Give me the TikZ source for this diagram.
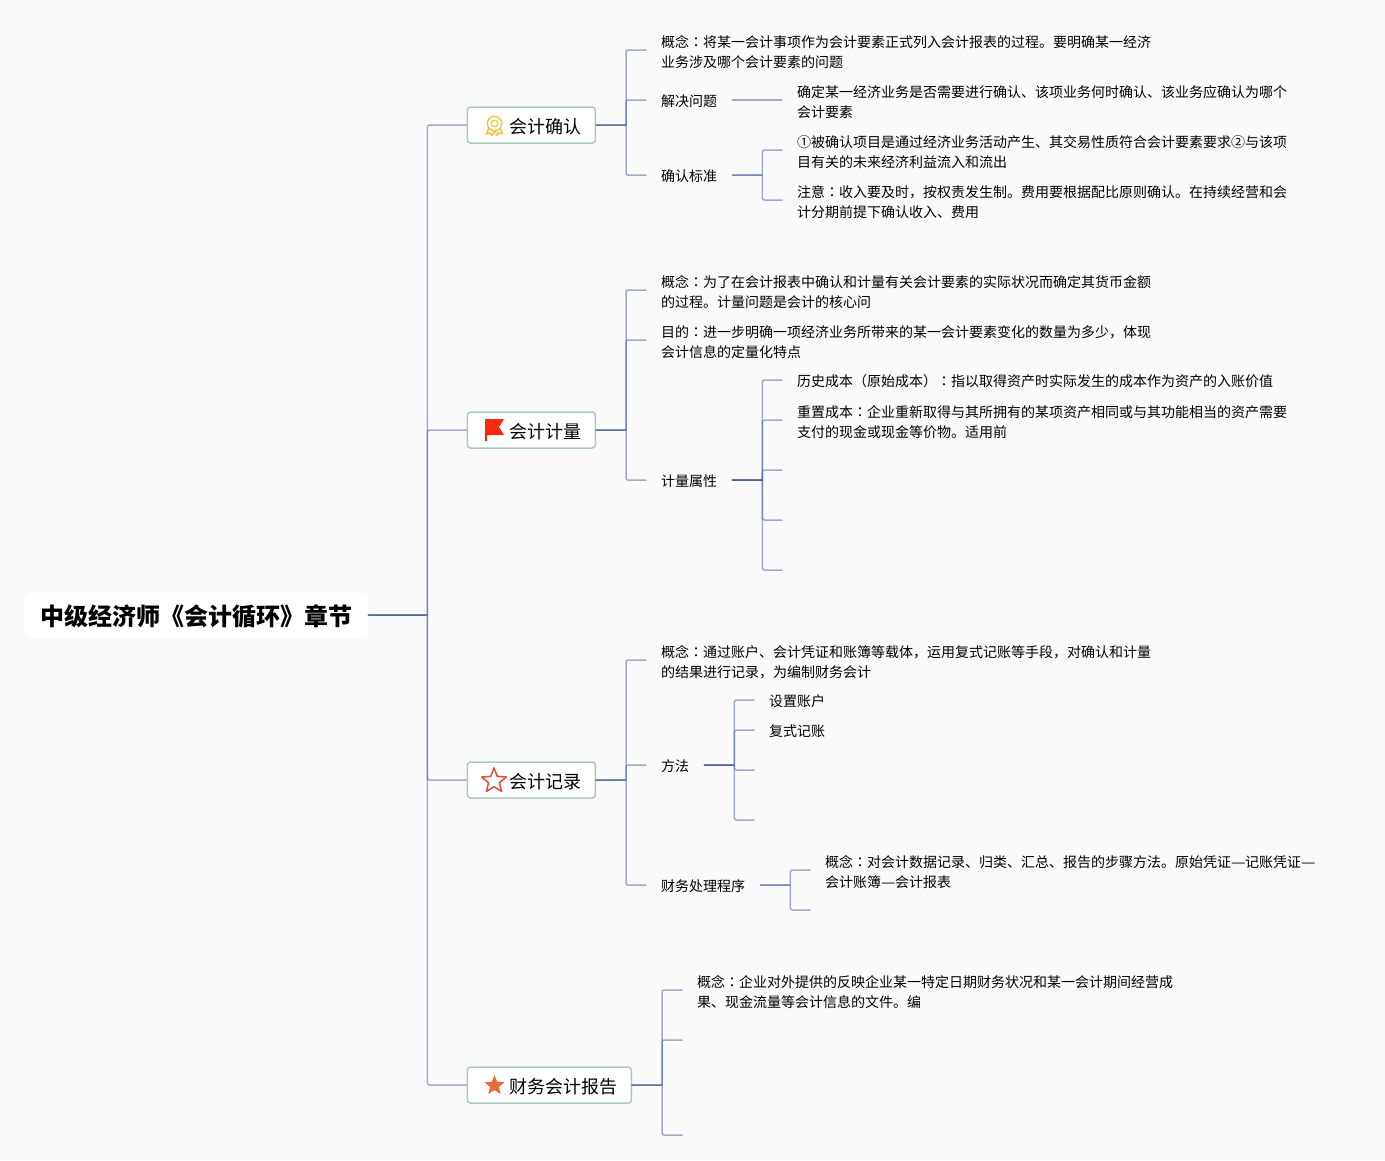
\documentclass[tikz,border=0pt]{standalone}
\usepackage{fontspec}
\setmainfont{Noto Sans CJK SC}
\newfontfamily\jpfont{Noto Sans CJK JP}
\usetikzlibrary{shapes.geometric}
\definecolor{nenbg}{HTML}{FAFAFB}
\definecolor{duong}{HTML}{4A5F9F}
\definecolor{vien}{HTML}{A9CBBF}
\definecolor{vang}{HTML}{F6C64E}
\definecolor{coRed}{HTML}{F52A0F}
\definecolor{saoDo}{HTML}{E2533F}
\definecolor{saoCam}{HTML}{E8693A}
\newcommand{\mh}{{\jpfont ：}}
\newcommand{\gach}{\makebox[14pt]{\scalebox{1.15}[1]{—}}}
\newcommand{\hd}{\rule{0pt}{16.8pt}}
\tikzset{
	lk/.style={draw=duong, line width=1.5pt, opacity=.5},
	la/.style={anchor=west, align=left, inner xsep=15pt, inner ysep=0pt, font=\fontsize{14}{20}\selectfont, execute at begin node={\rule{0pt}{14.3pt}}},
	nhanh/.style={anchor=west, draw=vien, fill=white, line width=1.5pt, rounded corners=3pt, align=right, inner xsep=14pt, minimum height=36pt, font=\fontsize{18}{22}\selectfont, execute at begin node={\rule{0pt}{18.3pt}}},
	goc/.style={anchor=west, fill=white, rounded corners=6pt, inner xsep=16pt, minimum height=45pt, font=\fontsize{24}{28}\selectfont\bfseries, execute at begin node={\rule{0pt}{24.1pt}}}
}
\begin{document}
\begin{tikzpicture}[x=1pt, y=-1pt, line join=round, line cap=round]
	\useasboundingbox (0,0) rectangle (1385,1160);
	\fill[nenbg] (0,0) rectangle (1385,1160);
	\node[goc] (root) at (24,615) {中级经济师《会计循环》章节};
	\node[nhanh, text width=99.8pt] (xn) at (466.7,125) {会计确认};
	\node[nhanh, text width=99.8pt] (cl) at (466.7,430) {会计计量};
	\node[nhanh, text width=99.8pt] (gc) at (466.7,780) {会计记录};
	\node[nhanh, text width=135.8pt] (bc) at (466.7,1085) {财务会计报告};
	% nhan chu
	\foreach \nm/\x/\y/\txt in {
		a1/646/50/{\hd 概念\mh 将某一会计事项作为会计要素正式列入会计报表的过程。要明确某一经济\\业务涉及哪个会计要素的问题},
		a2/646/100/{解决问题},
		a3/646/175/{确认标准},
		a4/782/100/{\hd 确定某一经济业务是否需要进行确认、该项业务何时确认、该业务应确认为哪个\\会计要素},
		a5/782/150/{\hd ①被确认项目是通过经济业务活动产生、其交易性质符合会计要素要求②与该项\\目有关的未来经济利益流入和流出},
		a6/782/200/{\hd 注意\mh 收入要及时，按权责发生制。费用要根据配比原则确认。在持续经营和会\\计分期前提下确认收入、费用},
		b1/646/290/{\hd 概念\mh 为了在会计报表中确认和计量有关会计要素的实际状况而确定其货币金额\\的过程。计量问题是会计的核心问},
		b2/646/340/{\hd 目的\mh 进一步明确一项经济业务所带来的某一会计要素变化的数量为多少，体现\\会计信息的定量化特点},
		b3/646/480/{计量属性},
		b4/782/380/{历史成本（原始成本）\mh 指以取得资产时实际发生的成本作为资产的入账价值},
		b5/782/420/{\hd 重置成本\mh 企业重新取得与其所拥有的某项资产相同或与其功能相当的资产需要\\支付的现金或现金等价物。适用前},
		c1/646/660/{\hd 概念\mh 通过账户、会计凭证和账簿等载体，运用复式记账等手段，对确认和计量\\的结果进行记录，为编制财务会计},
		c2/646/765/{方法},
		c3/646/885/{财务处理程序},
		c4/754/700/{设置账户},
		c5/754/730/{复式记账},
		c6/810/870/{\hd 概念\mh 对会计数据记录、归类、汇总、报告的步骤方法。原始凭证\gach 记账凭证\gach\\会计账簿\gach 会计报表},
		d1/682/990/{\hd 概念\mh 企业对外提供的反映企业某一特定日期财务状况和某一会计期间经营成\\果、现金流量等会计信息的文件。编}}
	\node[la] (\nm) at (\x,\y) {\txt};
	% nhanh trong
	\coordinate (e1) at (782,470);
	\coordinate (e2) at (782,520);
	\coordinate (e3) at (782,570);
	\coordinate (e4) at (754,770);
	\coordinate (e5) at (754,820);
	\coordinate (e6) at (810,910);
	\coordinate (e7) at (682,1040);
	\coordinate (e8) at (682,1135);
	% duong noi
	\foreach \p/\q/\g in {root/xn.west/59,root/cl.west/59,root/gc.west/59,root/bc.west/59,
		xn/a1.west/30,xn/a2.west/30,xn/a3.west/30,a3/a5.west/30,a3/a6.west/30,
		cl/b1.west/30,cl/b2.west/30,cl/b3.west/30,b3/b4.west/30,b3/b5.west/30,b3/e1/30,b3/e2/30,b3/e3/30,
		gc/c1.west/30,gc/c2.west/30,gc/c3.west/30,c2/c4.west/30,c2/c5.west/30,c2/e4/30,c2/e5/30,c3/c6.west/30,c3/e6/30,
		bc/d1.west/30,bc/e7/30,bc/e8/30}
	\draw[lk] (\p.east) -- ++(\g,0) [rounded corners=2pt] |- (\q);
	\draw[lk] (a2.east) -- (a4.west);
	% bieu tuong
	\draw[line width=1.5pt, draw=vang, fill=vang!20!white] (489,127.5) -- (486.5,134) -- (490,133) -- (492.3,135.5) -- (494.5,130) -- (496.7,135.5) -- (499,133) -- (502.5,134) -- (500,127.5);
	\draw[line width=1.5pt, draw=vang, fill=white] (494.5,123.5) circle (7.2);
	\draw[line width=1.3pt, draw=vang] (494.5,123.5) circle (3.3);
	\fill[coRed] (485,419) -- (504,419) -- (499,427) -- (504,435) -- (487,435) -- (487,441) -- (485,441) -- cycle;
	\node[star, star points=5, star point ratio=2.3, minimum size=26pt, inner sep=0pt, draw=saoDo, line width=1.6pt, fill=white] (saorong) at (494,781) {};
	\node[star, star points=5, star point ratio=2.3, minimum size=21pt, inner sep=0pt, fill=saoCam] (saodac) at (494.5,1085.5) {};
\end{tikzpicture}
\end{document}
